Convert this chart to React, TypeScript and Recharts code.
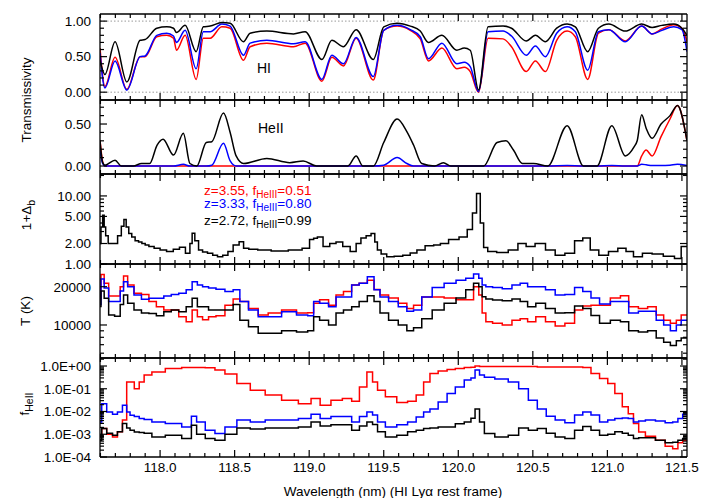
import { LineChart, Line, XAxis, YAxis, ReferenceLine } from 'recharts';

const FONT = '"Liberation Sans", Arial, Helvetica, sans-serif';
const RED = '#ff0000';
const BLUE = '#0000ff';
const BLACK = '#000000';

// wavelength axis (nm), shared by all panels
const waveDomain: [number, number] = [117.597, 121.534];
const waveTicks = Array.from({ length: 40 }, (_, i) => (1176 + i) / 10);
const waveMajor = [118.0, 118.5, 119.0, 119.5, 120.0, 120.5, 121.0, 121.5];

// panel 1: HI transmissivity
const p1Wave = [117.597, 117.63, 117.698, 117.777, 117.866, 117.899, 117.978, 118.045, 118.09, 118.11, 118.168, 118.242, 118.29, 118.336, 118.414, 118.47, 118.559, 118.604, 118.716, 118.895, 118.973, 119.085, 119.152, 119.23, 119.315, 119.43, 119.5, 119.589, 119.678, 119.745, 119.8, 119.89, 119.99, 120.04, 120.08, 120.136, 120.2, 120.3, 120.357, 120.456, 120.517, 120.584, 120.66, 120.73, 120.785, 120.868, 120.94, 121.01, 121.12, 121.23, 121.3, 121.366, 121.445, 121.5, 121.534];
const p1Red = [0.62, 0.08, 0.49, 0.04, 0.5, 0.5, 0.78, 0.8, 0.76, 0.59, 0.8, 0.18, 0.76, 0.76, 0.92, 0.9, 0.45, 0.64, 0.69, 0.64, 0.69, 0.155, 0.49, 0.37, 0.76, 0.17, 0.87, 0.93, 0.87, 0.75, 0.44, 0.62, 0.33, 0.35, 0.29, 0.0, 0.76, 0.75, 0.64, 0.29, 0.44, 0.29, 0.73, 0.86, 0.78, 0.18, 0.83, 0.88, 0.72, 0.93, 0.82, 0.89, 0.95, 0.9, 0.71];
const p1Blue = [0.55, 0.06, 0.44, 0.03, 0.5, 0.51, 0.8, 0.83, 0.79, 0.7, 0.87, 0.33, 0.85, 0.85, 0.96, 0.93, 0.52, 0.69, 0.73, 0.68, 0.71, 0.18, 0.52, 0.4, 0.77, 0.22, 0.87, 0.94, 0.88, 0.78, 0.47, 0.69, 0.4, 0.42, 0.36, 0.01, 0.85, 0.86, 0.79, 0.52, 0.65, 0.5, 0.83, 0.92, 0.85, 0.31, 0.85, 0.88, 0.71, 0.93, 0.82, 0.87, 0.92, 0.88, 0.57];
const p1Black = [0.45, 0.25, 0.71, 0.145, 0.73, 0.74, 0.9, 0.92, 0.9, 0.84, 0.94, 0.57, 0.92, 0.93, 0.98, 0.97, 0.71, 0.83, 0.86, 0.82, 0.85, 0.46, 0.73, 0.64, 0.88, 0.46, 0.92, 0.97, 0.93, 0.86, 0.7, 0.8, 0.59, 0.62, 0.59, 0.03, 0.92, 0.93, 0.9, 0.72, 0.8, 0.71, 0.9, 0.96, 0.92, 0.57, 0.9, 0.96, 0.86, 0.96, 0.91, 0.94, 0.96, 0.9, 0.8];

// panel 2: HeII transmissivity
const p2Wave = [117.597, 117.615, 117.63, 117.698, 117.74, 117.82, 117.876, 117.93, 117.98, 118.02, 118.09, 118.156, 118.2, 118.246, 118.31, 118.347, 118.425, 118.47, 118.51, 118.56, 118.716, 118.87, 118.96, 119.05, 119.26, 119.315, 119.36, 119.43, 119.5, 119.59, 119.655, 119.7, 119.755, 119.84, 119.9, 119.95, 120.17, 120.26, 120.32, 120.37, 120.43, 120.505, 120.6, 120.73, 120.84, 120.93, 121.03, 121.12, 121.18, 121.2, 121.23, 121.26, 121.3, 121.36, 121.42, 121.47, 121.534];
const p2Red = [0.31, 0.05, 0, 0, 0, 0, 0, 0, 0, 0, 0, 0, 0, 0, 0, 0, 0, 0, 0, 0, 0, 0, 0, 0, 0, 0, 0, 0, 0, 0, 0, 0, 0, 0, 0, 0, 0, 0, 0, 0, 0, 0, 0, 0, 0, 0, 0, 0, 0, 0, 0.12, 0.19, 0.12, 0.35, 0.56, 0.72, 0.3];
const p2Blue = [0.18, 0.03, 0, 0, 0, 0, 0, 0, 0, 0, 0, 0.02, 0, 0, 0, 0.01, 0.27, 0.06, 0, 0, 0, 0, 0, 0, 0, 0, 0, 0, 0.01, 0.1, 0.03, 0, 0, 0, 0, 0, 0, 0, 0, 0, 0, 0, 0, 0.005, 0, 0, 0.005, 0, 0, 0, 0.02, 0.015, 0.005, 0.005, 0.01, 0.02, 0.005];
const p2Black = [0.3, 0.04, 0.01, 0.07, 0, 0, 0.03, 0.03, 0.25, 0.32, 0.13, 0.39, 0.03, 0, 0.28, 0.29, 0.63, 0.4, 0.12, 0.03, 0.09, 0.04, 0.06, 0, 0, 0.12, 0, 0, 0.28, 0.56, 0.41, 0.25, 0.03, 0, 0.04, 0, 0, 0.28, 0.3, 0.19, 0.03, 0.03, 0, 0.48, 0, 0, 0.48, 0.12, 0.23, 0.3, 0.61, 0.45, 0.33, 0.5, 0.6, 0.72, 0.3];

// panel 3: 1 + baryon overdensity (z = 2.72 only)
const p3Wave = [117.597, 117.61, 117.62, 117.63, 117.64, 117.664, 117.7, 117.73, 117.75, 117.765, 117.78, 117.8, 117.82, 117.845, 117.866, 117.89, 117.91, 117.94, 117.98, 118.02, 118.067, 118.11, 118.15, 118.19, 118.21, 118.22, 118.246, 118.27, 118.3, 118.336, 118.37, 118.4, 118.44, 118.47, 118.51, 118.55, 118.57, 118.62, 118.69, 118.8, 118.92, 118.985, 119.02, 119.04, 119.07, 119.116, 119.16, 119.2, 119.25, 119.3, 119.33, 119.364, 119.4, 119.43, 119.45, 119.465, 119.5, 119.54, 119.6, 119.655, 119.7, 119.745, 119.81, 119.86, 119.9, 119.97, 120.04, 120.08, 120.11, 120.135, 120.16, 120.18, 120.215, 120.3, 120.37, 120.43, 120.48, 120.55, 120.62, 120.68, 120.75, 120.81, 120.86, 120.91, 120.975, 121.04, 121.1, 121.15, 121.2, 121.27, 121.33, 121.42, 121.48, 121.51, 121.534];
const p3Bias = [2.0, 3.5, 5.2, 3.5, 2.6, 2.0, 2.0, 2.6, 3.6, 4.5, 3.5, 2.8, 2.5, 2.2, 2.1, 2.0, 1.9, 1.8, 1.7, 1.6, 1.52, 1.65, 1.76, 1.44, 2.0, 2.83, 2.2, 1.6, 1.5, 1.44, 1.35, 1.28, 1.35, 1.52, 1.9, 2.13, 1.7, 1.65, 1.6, 1.55, 1.6, 1.7, 2.3, 2.39, 2.5, 1.8, 2.0, 2.1, 1.8, 1.52, 2.0, 2.4, 2.6, 2.8, 2.1, 1.6, 1.4, 1.28, 1.3, 1.35, 1.45, 1.6, 1.85, 1.9, 2.0, 2.3, 2.5, 3.2, 5.6, 10.9, 4.0, 1.75, 1.52, 1.47, 1.6, 2.0, 1.8, 2.0, 1.6, 1.35, 1.44, 2.2, 2.4, 1.6, 1.35, 1.52, 1.7, 1.52, 1.28, 1.44, 1.4, 1.3, 1.2, 1.8, 1.8];

// panel 4: temperature (K)
const p4Wave = [117.597, 117.61, 117.64, 117.67, 117.72, 117.745, 117.765, 117.8, 117.85, 117.9, 117.95, 118.0, 118.05, 118.1, 118.15, 118.2, 118.23, 118.27, 118.3, 118.35, 118.4, 118.47, 118.51, 118.56, 118.626, 118.69, 118.76, 118.87, 118.96, 119.02, 119.04, 119.1, 119.16, 119.2, 119.26, 119.31, 119.36, 119.42, 119.45, 119.5, 119.565, 119.63, 119.68, 119.72, 119.79, 119.86, 119.95, 120.02, 120.08, 120.125, 120.15, 120.17, 120.2, 120.26, 120.33, 120.39, 120.44, 120.49, 120.55, 120.62, 120.68, 120.75, 120.81, 120.86, 120.92, 120.975, 121.065, 121.11, 121.176, 121.24, 121.3, 121.355, 121.4, 121.445, 121.48, 121.51, 121.534];
const p4Red = [16000, 25000, 21300, 16900, 16900, 20000, 24300, 20600, 17800, 17400, 15300, 13900, 13100, 13100, 11600, 10600, 13100, 11600, 11000, 11600, 11800, 14300, 16000, 15300, 13500, 12000, 12400, 13100, 12400, 12500, 14800, 15800, 14300, 17200, 18300, 20600, 21300, 22500, 19000, 17200, 16300, 14800, 13500, 14300, 16600, 16600, 16300, 15800, 15800, 20000, 17200, 12400, 10600, 10300, 10000, 10900, 11200, 10600, 11600, 10600, 9800, 10300, 13100, 14100, 14300, 14300, 16300, 17000, 13900, 13500, 13900, 12000, 10900, 10300, 10900, 12000, 12000];
const p4Blue = [14500, 23000, 19500, 15300, 15300, 18500, 21900, 20000, 17200, 15900, 16200, 16200, 16900, 17400, 17800, 18900, 21900, 20600, 20000, 19500, 19100, 18300, 18900, 15300, 13100, 11600, 11600, 12700, 12000, 11800, 15300, 14800, 13900, 16600, 16600, 20600, 21300, 24000, 18900, 16600, 15300, 13900, 12800, 13100, 16600, 19700, 21300, 22500, 23300, 25200, 23300, 20600, 20000, 19700, 19300, 20600, 21300, 20000, 20000, 18900, 17200, 17400, 19700, 18300, 16300, 14600, 15300, 15300, 12400, 12800, 12800, 10900, 10000, 9000, 10000, 10900, 10900];
const p4Black = [14000, 18500, 16200, 12000, 11700, 14500, 17200, 14800, 13100, 12400, 12300, 11800, 12700, 13100, 12700, 13900, 16200, 13900, 13900, 13100, 13100, 13100, 14500, 10900, 9700, 8600, 8600, 9000, 8800, 9000, 11600, 10900, 10000, 12400, 13100, 13900, 15300, 17000, 15300, 12400, 10900, 10000, 9000, 9500, 11200, 13100, 14800, 16300, 18900, 21300, 20000, 16700, 16000, 15700, 15500, 16000, 15300, 13900, 14800, 13500, 12400, 12500, 14100, 13500, 11900, 10300, 10900, 10600, 9000, 8800, 9000, 7900, 7300, 6900, 7500, 7900, 7900];

// panel 5: HeII fraction
const p5Wave = [117.597, 117.62, 117.664, 117.698, 117.73, 117.765, 117.787, 117.81, 117.844, 117.876, 117.91, 117.98, 118.09, 118.2, 118.22, 118.27, 118.336, 118.4, 118.47, 118.56, 118.65, 118.76, 118.87, 118.985, 119.04, 119.107, 119.185, 119.26, 119.31, 119.364, 119.41, 119.44, 119.477, 119.545, 119.63, 119.69, 119.745, 119.79, 119.83, 119.9, 119.95, 120.01, 120.07, 120.1, 120.125, 120.16, 120.19, 120.3, 120.37, 120.44, 120.5, 120.56, 120.62, 120.68, 120.75, 120.81, 120.86, 120.92, 120.975, 121.03, 121.07, 121.13, 121.15, 121.2, 121.22, 121.29, 121.355, 121.42, 121.456, 121.49, 121.52, 121.534];
const p5Red = [7.6e-4, 1.8e-3, 1.0e-3, 7.6e-4, 1.3e-3, 4.2e-3, 0.2, 0.2, 0.1, 0.2, 0.4, 0.55, 0.77, 0.85, 0.85, 0.85, 0.84, 0.66, 0.45, 0.17, 0.087, 0.053, 0.031, 0.022, 0.037, 0.019, 0.031, 0.037, 0.028, 0.12, 0.55, 0.2, 0.087, 0.044, 0.025, 0.028, 0.053, 0.2, 0.47, 0.6, 0.7, 0.77, 0.85, 0.88, 0.99, 0.95, 0.95, 0.95, 0.95, 0.95, 0.95, 0.9, 0.9, 0.9, 0.9, 0.9, 0.85, 0.47, 0.28, 0.17, 0.062, 0.016, 8e-3, 3e-3, 1.25e-3, 8.1e-4, 5.5e-4, 3.0e-4, 2.3e-4, 4.2e-4, 5.5e-4, 5.5e-4];
const p5Blue = [3.5e-3, 0.022, 9.6e-3, 7.6e-3, 9.6e-3, 0.019, 9.6e-3, 6.9e-3, 6.0e-3, 4.9e-3, 4.4e-3, 3.5e-3, 3.0e-3, 2.1e-3, 6.2e-3, 3.5e-3, 1.5e-3, 1.07e-3, 2.1e-3, 4.2e-3, 3.5e-3, 4.2e-3, 4.2e-3, 4.9e-3, 7.6e-3, 4.9e-3, 6.0e-3, 6.0e-3, 3.5e-3, 6.0e-3, 9.6e-3, 7.0e-3, 3.5e-3, 2.1e-3, 2.6e-3, 3.5e-3, 5.7e-3, 9.6e-3, 0.013, 0.026, 0.062, 0.12, 0.24, 0.3, 0.66, 0.4, 0.32, 0.27, 0.2, 0.1, 0.031, 0.013, 6.2e-3, 4.2e-3, 3.2e-3, 7.0e-3, 9.4e-3, 7.0e-3, 3.5e-3, 4.2e-3, 4.9e-3, 5.2e-3, 4.9e-3, 3.5e-3, 3.8e-3, 4.2e-3, 3.8e-3, 3.2e-3, 3.5e-3, 4.9e-3, 7.5e-3, 7.5e-3];
const p5Black = [5.5e-4, 1.8e-3, 1.1e-3, 9e-4, 1.3e-3, 3.0e-3, 1.9e-3, 1.5e-3, 1.25e-3, 1.2e-3, 1.1e-3, 7.6e-4, 9e-4, 6.5e-4, 2.5e-3, 1.0e-3, 6.5e-4, 5.5e-4, 1.0e-3, 1.9e-3, 1.7e-3, 1.9e-3, 1.9e-3, 2.1e-3, 3.5e-3, 2.3e-3, 2.6e-3, 2.6e-3, 1.5e-3, 2.3e-3, 3.5e-3, 2.7e-3, 1.3e-3, 7.6e-4, 9e-4, 1.3e-3, 1.5e-3, 1.8e-3, 1.9e-3, 2.1e-3, 2.1e-3, 2.9e-3, 3.5e-3, 5e-3, 0.013, 3.5e-3, 1.07e-3, 7.6e-4, 9e-4, 1.9e-3, 1.5e-3, 1.8e-3, 1.1e-3, 7.6e-4, 6.5e-4, 1.5e-3, 2.2e-3, 1.5e-3, 9e-4, 1.0e-3, 1.3e-3, 1.1e-3, 9e-4, 6.5e-4, 7e-4, 7e-4, 5.5e-4, 4.2e-4, 4.5e-4, 5.5e-4, 6.5e-4, 6.5e-4];

// y tick lists
const transTicks = Array.from({ length: 11 }, (_, i) => i / 10);
const heTicks = Array.from({ length: 8 }, (_, i) => i / 10);
const biasTicks = [1, 2, 3, 4, 5, 6, 7, 8, 9, 10, 20];
const tempTicks = [6000, 7000, 8000, 9000, 10000, 20000, 30000];
const fracMajor = [1e-4, 1e-3, 1e-2, 1e-1, 1];
const fracTicks = [...[1e-4, 1e-3, 1e-2, 1e-1].flatMap((d) => [1, 2, 3, 4, 5, 6, 7, 8, 9].map((m) => m * d)), 1, 2];

const triple = (w: number[], r: number[], b: number[], k: number[]) =>
  w.map((x, i) => ({ w: x, r: r[i], b: b[i], k: k[i] }));

const p1Rows = triple(p1Wave, p1Red, p1Blue, p1Black);
const p2Rows = triple(p2Wave, p2Red, p2Blue, p2Black);
const p3Rows = p3Wave.map((x, i) => ({ w: x, k: p3Bias[i] }));
const p4Rows = triple(p4Wave, p4Red, p4Blue, p4Black);
const p5Rows = triple(p5Wave, p5Red, p5Blue, p5Black);

const RGB = [
  { key: 'r', color: RED },
  { key: 'b', color: BLUE },
  { key: 'k', color: BLACK },
];

type Side = 'bottom' | 'top' | 'left' | 'right';

const isMajor = (v: number, majors: number[]) =>
  majors.some((m) => Math.abs(m - v) <= Math.abs(m) * 1e-6 + 1e-12);

const makeTick = (side: Side, majors: number[], fmt?: (v: number) => string) => (props: any) => {
  const { x, y, payload } = props;
  const v: number = payload.value;
  const major = isMajor(v, majors);
  const len = major ? 7 : 4;
  const label = major && fmt ? fmt(v) : null;
  const ln = { stroke: '#000', strokeWidth: 1.2 };
  const txt = { fontFamily: FONT, fontSize: 13.5, fill: '#000' };
  if (side === 'bottom')
    return (
      <g>
        <line x1={x} y1={y} x2={x} y2={y - len} {...ln} />
        {label && <text x={x} y={y + 15} textAnchor="middle" {...txt}>{label}</text>}
      </g>
    );
  if (side === 'top') return <line x1={x} y1={y} x2={x} y2={y + len} {...ln} />;
  if (side === 'left')
    return (
      <g>
        <line x1={x} y1={y} x2={x + len} y2={y} {...ln} />
        {label && <text x={x - 9} y={y + 4.8} textAnchor="end" {...txt}>{label}</text>}
      </g>
    );
  return <line x1={x} y1={y} x2={x - len} y2={y} {...ln} />;
};

const AXIS = { stroke: '#000', strokeWidth: 1.3 };

interface PanelProps {
  top: number;
  bottom: number;
  rows: Record<string, number>[];
  series: { key: string; color: string }[];
  curve: 'monotone' | 'step';
  yDomain: [number, number];
  yLog?: boolean;
  yTicks: number[];
  yMajor: number[];
  yFmt: (v: number) => string;
  xLabels?: boolean;
  guides?: number[];
}

const Panel = (p: PanelProps) => (
  <div style={{ position: 'absolute', left: 0, top: 0 }}>
    <LineChart
      width={712}
      height={498}
      data={p.rows}
      margin={{ top: p.top - 1, bottom: 498 - p.bottom - 1, left: 99, right: 24 }}
    >
      <XAxis xAxisId="b" dataKey="w" type="number" domain={waveDomain} allowDataOverflow
        ticks={waveTicks} interval={0} height={1} tickSize={0} tickMargin={0} tickLine={false}
        axisLine={AXIS} tick={makeTick('bottom', waveMajor, p.xLabels ? (v) => v.toFixed(1) : undefined)} />
      <XAxis xAxisId="t" orientation="top" dataKey="w" type="number" domain={waveDomain} allowDataOverflow
        ticks={waveTicks} interval={0} height={1} tickSize={0} tickMargin={0} tickLine={false}
        axisLine={AXIS} tick={makeTick('top', waveMajor)} />
      <YAxis yAxisId="l" type="number" scale={p.yLog ? 'log' : 'linear'} domain={p.yDomain} allowDataOverflow
        ticks={p.yTicks} interval={0} width={1} tickSize={0} tickMargin={0} tickLine={false}
        axisLine={AXIS} tick={makeTick('left', p.yMajor, p.yFmt)} />
      <YAxis yAxisId="r" orientation="right" type="number" scale={p.yLog ? 'log' : 'linear'} domain={p.yDomain}
        allowDataOverflow ticks={p.yTicks} interval={0} width={1} tickSize={0} tickMargin={0} tickLine={false}
        axisLine={AXIS} tick={makeTick('right', p.yMajor)} />
      {(p.guides || []).map((g) => (
        <ReferenceLine key={g} xAxisId="b" yAxisId="l" y={g} stroke="#999" strokeDasharray="1.5 2" strokeWidth={1} />
      ))}
      {p.series.map((s) => (
        <Line key={s.key} xAxisId="b" yAxisId="l" dataKey={s.key} type={p.curve} stroke={s.color}
          strokeWidth={1.5} dot={false} isAnimationActive={false} />
      ))}
    </LineChart>
  </div>
);

const two = (v: number) => v.toFixed(2);
const sci = (v: number) => {
  const e = Math.round(Math.log10(v));
  return `1.0E${e >= 0 ? '+' : '-'}${String(Math.abs(e)).padStart(2, '0')}`;
};

const Sub = ({ children, size = 10.5, dy = 4 }: { children: string; size?: number; dy?: number }) => (
  <tspan dy={dy} fontSize={size}>{children}</tspan>
);

export default function App() {
  return (
    <div style={{ position: 'absolute', left: 0, top: 0, width: 712, height: 498, background: '#fff' }}>
      <Panel top={14} bottom={100} rows={p1Rows} series={RGB} curve="monotone" yDomain={[-0.11, 1.1]}
        yTicks={transTicks} yMajor={[0, 0.5, 1]} yFmt={two} guides={[0, 1]} />
      <Panel top={100} bottom={174} rows={p2Rows} series={RGB} curve="monotone" yDomain={[-0.095, 0.786]}
        yTicks={heTicks} yMajor={[0, 0.5]} yFmt={two} />
      <Panel top={174} bottom={264} rows={p3Rows} series={[{ key: 'k', color: BLACK }]} curve="step"
        yDomain={[1, 21]} yLog yTicks={biasTicks} yMajor={[1, 2, 5, 10]} yFmt={two} />
      <Panel top={264} bottom={358} rows={p4Rows} series={RGB} curve="step" yDomain={[5500, 30170]} yLog
        yTicks={tempTicks} yMajor={[10000, 20000]} yFmt={(v) => String(v)} />
      <Panel top={358} bottom={457} rows={p5Rows} series={RGB} curve="step" yDomain={[1e-4, 2.25]} yLog
        yTicks={fracTicks} yMajor={fracMajor} yFmt={sci} xLabels />

      <svg width={712} height={498} style={{ position: 'absolute', left: 0, top: 0 }} fontFamily={FONT}>
        <text transform="translate(30.5,100) rotate(-90)" textAnchor="middle" fontSize={13.5}>Transmissivity</text>
        <text transform="translate(30.5,215) rotate(-90)" textAnchor="middle" fontSize={13.5}>
          1+Δ<Sub>b</Sub>
        </text>
        <text transform="translate(30,311) rotate(-90)" textAnchor="middle" fontSize={13.5}>T (K)</text>
        <text transform="translate(28.5,404) rotate(-90)" textAnchor="middle" fontSize={13.5}>
          f<Sub>HeII</Sub>
        </text>

        <text x={264} y={72.5} textAnchor="middle" fontSize={14}>HI</text>
        <text x={258} y={132.5} fontSize={14}>HeII</text>

        <text x={204} y={194.5} fontSize={13.5} fill={RED}>
          z=3.55, f<Sub size={10} dy={3}>HeIII</Sub><tspan dy={-3}>=0.51</tspan>
        </text>
        <text x={204} y={208} fontSize={13.5} fill={BLUE}>
          z=3.33, f<Sub size={10} dy={3}>HeIII</Sub><tspan dy={-3}>=0.80</tspan>
        </text>
        <text x={204} y={224.5} fontSize={13.5} fill={BLACK}>
          z=2.72, f<Sub size={10} dy={3}>HeIII</Sub><tspan dy={-3}>=0.99</tspan>
        </text>

        <text x={393} y={496} textAnchor="middle" fontSize={13.5}>Wavelength (nm) (HI Lyα rest frame)</text>
      </svg>
    </div>
  );
}
